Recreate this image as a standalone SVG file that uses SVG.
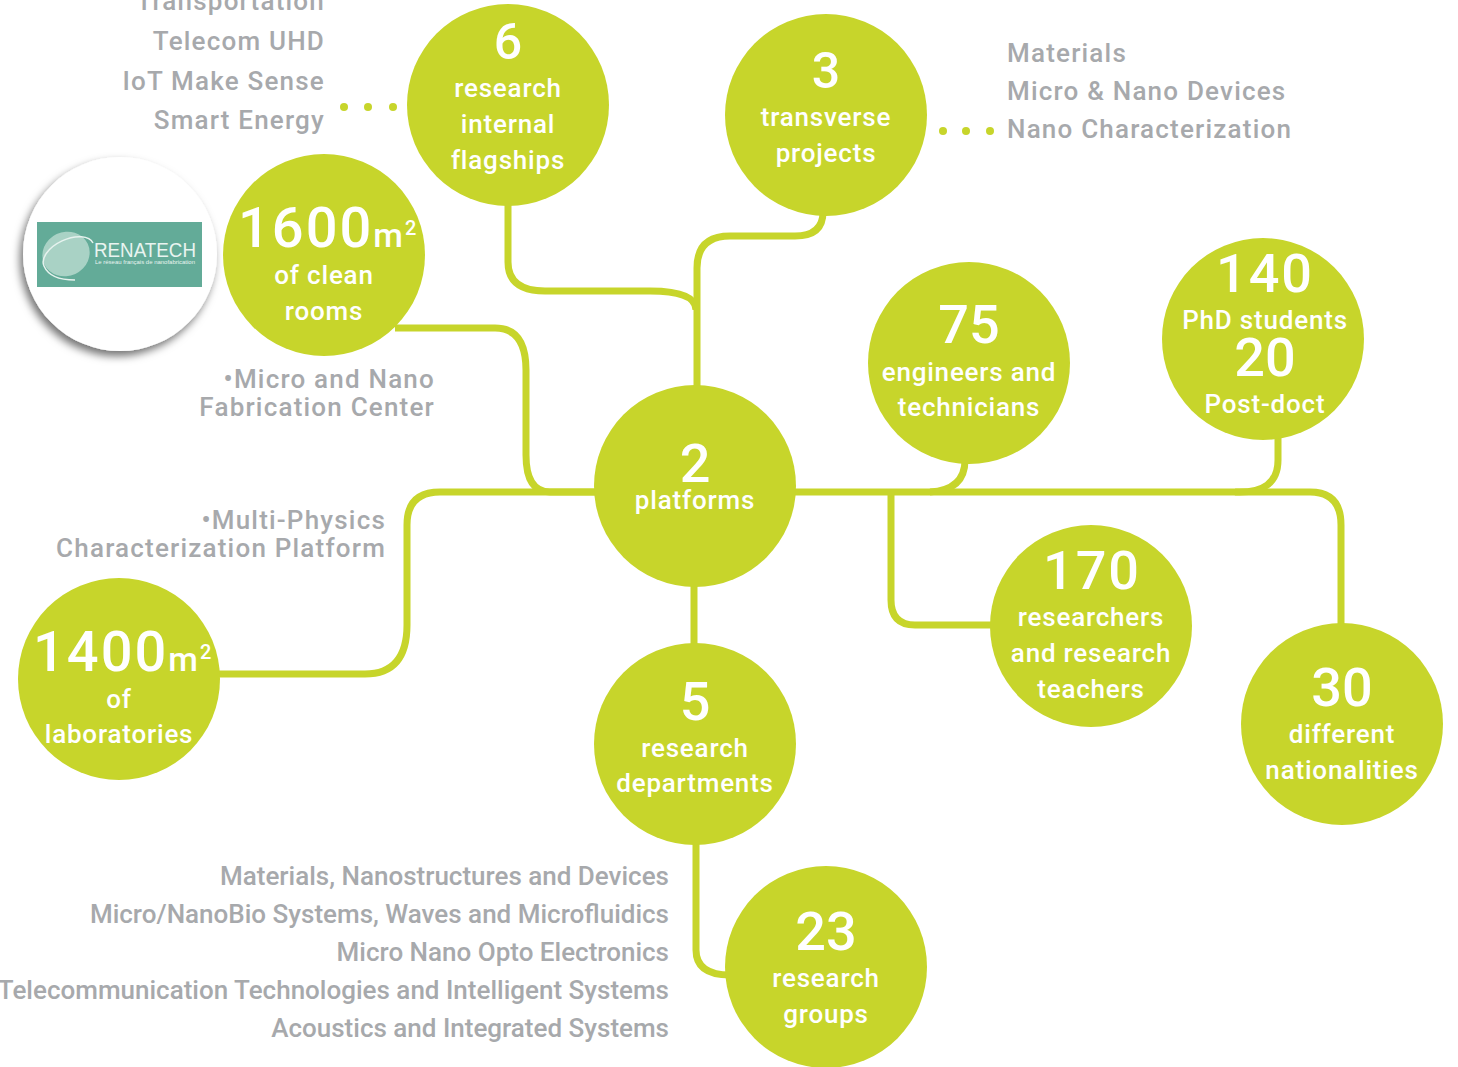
<svg xmlns="http://www.w3.org/2000/svg" width="1458" height="1067" viewBox="0 0 1458 1067">
<defs>
<filter id="sh" x="-20%" y="-20%" width="140%" height="140%"><feDropShadow dx="-3" dy="5" stdDeviation="4" flood-color="#000" flood-opacity="0.55"/></filter>
</defs>
<style>
text{font-family:"Roboto","Liberation Sans",sans-serif}
.c{fill:#c7d52b}
.l{fill:none;stroke:#c7d52b;stroke-width:7}
.d{fill:#c7d52b}
.n{fill:#fff;font-size:50px;font-weight:500;text-anchor:middle}
.t{fill:#fff;font-size:26px;font-weight:500;text-anchor:middle;letter-spacing:.8px}
.g{fill:#a7a9ac;font-size:26px;font-weight:500;text-anchor:end;letter-spacing:1.2px}
.s{fill:#a7a9ac;font-size:26px;font-weight:500;text-anchor:end}
.b{fill:#a7a9ac;font-size:26px;font-weight:500;letter-spacing:1.2px}
</style>
<g id="connectors">
<path class="l" d="M508 200V262Q508 291 545 291H650Q696 291 696 310"/>
<path class="l" d="M697 390V268Q697 236 730 236H795Q823 236 823 212"/>
<path class="l" d="M395 328H495Q526 328 526 370V455Q526 492 550 492H600"/>
<path class="l" d="M600 492H440Q407 492 407 525V625Q407 674 365 674H215"/>
<path class="l" d="M790 492H1310Q1341 492 1341 525V630"/>
<path class="l" d="M930 492Q965 490 965 460"/>
<path class="l" d="M1235 492Q1278 494 1278 460V435"/>
<path class="l" d="M891 492V600Q891 625 915 625H995"/>
<path class="l" d="M694 580V650"/>
<path class="l" d="M696 840V950Q696 975 730 975"/>
</g>
<g id="dots">
<circle class="d" cx="344" cy="107" r="4"/><circle class="d" cx="368" cy="107" r="4"/><circle class="d" cx="393" cy="107" r="4"/>
<circle class="d" cx="943" cy="131" r="4"/><circle class="d" cx="966" cy="131" r="4"/><circle class="d" cx="990" cy="131" r="4"/>
</g>
<g id="logo">
<circle cx="120" cy="254" r="97" fill="#fff" filter="url(#sh)"/>
<rect x="37" y="222" width="165" height="65" fill="#63ab98"/>
<ellipse cx="66" cy="254" rx="24" ry="22" fill="#a9d2c5" transform="rotate(-25 66 254)"/>
<path d="M93 243A27 15 -25 0 0 44 266Q50 280 75 280" fill="none" stroke="#e6f2ee" stroke-width="1.5"/>
<text x="94" y="257" font-size="20" fill="#e9f4f0" style="font-family:'Liberation Sans',sans-serif" textLength="102" lengthAdjust="spacingAndGlyphs">RENATECH</text>
<text x="95" y="264" font-size="5" fill="#e9f4f0" style="font-family:'Liberation Sans',sans-serif" textLength="100" lengthAdjust="spacingAndGlyphs">Le réseau français de nanofabrication</text>
</g>
<g id="n-flagships"><circle class="c" cx="508" cy="105" r="101"/><text class="n" x="508" y="59">6</text><text class="t" x="508" y="97">research</text><text class="t" x="508" y="133">internal</text><text class="t" x="508" y="169">flagships</text></g>
<g id="n-projects"><circle class="c" cx="826" cy="115" r="101"/><text class="n" x="826" y="88">3</text><text class="t" x="826" y="126">transverse</text><text class="t" x="826" y="162">projects</text></g>
<g id="n-clean"><circle class="c" cx="324" cy="255" r="101"/><text class="n" x="238" y="247" style="text-anchor:start;font-size:56px;letter-spacing:2px">1600<tspan font-size="34">m</tspan><tspan font-size="20" dy="-12">2</tspan></text><text class="t" x="324" y="284">of clean</text><text class="t" x="324" y="320">rooms</text></g>
<g id="n-engineers"><circle class="c" cx="969" cy="363" r="101"/><text class="n" x="969" y="343" style="font-size:54px">75</text><text class="t" x="969" y="381">engineers and</text><text class="t" x="969" y="416">technicians</text></g>
<g id="n-phd"><circle class="c" cx="1263" cy="339" r="101"/><text class="n" x="1265" y="292" style="font-size:54px;letter-spacing:2px">140</text><text class="t" x="1265" y="329">PhD students</text><text class="n" x="1265" y="376" style="font-size:54px">20</text><text class="t" x="1265" y="413">Post-doct</text></g>
<g id="n-platforms"><circle class="c" cx="695" cy="486" r="101"/><text class="n" x="695" y="482" style="font-size:54px">2</text><text class="t" x="695" y="509">platforms</text></g>
<g id="n-researchers"><circle class="c" cx="1091" cy="626" r="101"/><text class="n" x="1092" y="589" style="font-size:54px;letter-spacing:2px">170</text><text class="t" x="1091" y="626">researchers</text><text class="t" x="1091" y="662">and research</text><text class="t" x="1091" y="698">teachers</text></g>
<g id="n-nationalities"><circle class="c" cx="1342" cy="724" r="101"/><text class="n" x="1342" y="706" style="font-size:54px">30</text><text class="t" x="1342" y="743">different</text><text class="t" x="1342" y="779">nationalities</text></g>
<g id="n-labs"><circle class="c" cx="119" cy="679" r="101"/><text class="n" x="33" y="671" style="text-anchor:start;font-size:56px;letter-spacing:2px">1400<tspan font-size="34">m</tspan><tspan font-size="20" dy="-12">2</tspan></text><text class="t" x="119" y="708">of</text><text class="t" x="119" y="743">laboratories</text></g>
<g id="n-departments"><circle class="c" cx="695" cy="744" r="101"/><text class="n" x="695" y="720" style="font-size:54px">5</text><text class="t" x="695" y="757">research</text><text class="t" x="695" y="792">departments</text></g>
<g id="n-groups"><circle class="c" cx="826" cy="967" r="101"/><text class="n" x="826" y="950" style="font-size:54px">23</text><text class="t" x="826" y="987">research</text><text class="t" x="826" y="1023">groups</text></g>
<g id="labels">
<text class="g" x="325" y="10">Transportation</text>
<text class="g" x="325" y="50">Telecom UHD</text>
<text class="g" x="325" y="90">IoT Make Sense</text>
<text class="g" x="325" y="129">Smart Energy</text>
<text class="b" x="1007" y="62">Materials</text>
<text class="b" x="1007" y="100">Micro &amp; Nano Devices</text>
<text class="b" x="1007" y="138">Nano Characterization</text>
<text class="g" x="435" y="388">•Micro and Nano</text>
<text class="g" x="435" y="416">Fabrication Center</text>
<text class="g" x="386" y="529">•Multi-Physics</text>
<text class="g" x="386" y="557">Characterization Platform</text>
<text class="s" x="669" y="885">Materials, Nanostructures and Devices</text>
<text class="s" x="669" y="923">Micro/NanoBio Systems, Waves and Microfluidics</text>
<text class="s" x="669" y="961">Micro Nano Opto Electronics</text>
<text class="s" x="669" y="999">Telecommunication Technologies and Intelligent Systems</text>
<text class="s" x="669" y="1037">Acoustics and Integrated Systems</text>
</g>
</svg>
